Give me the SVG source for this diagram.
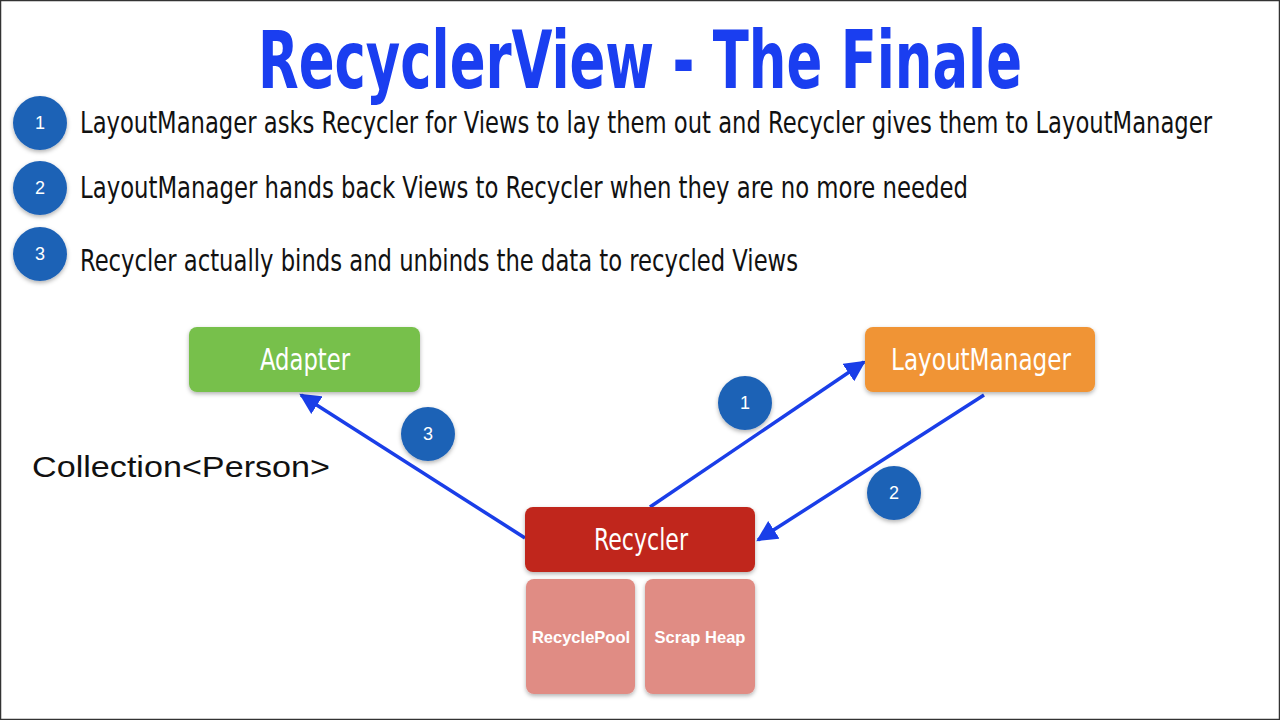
<svg xmlns="http://www.w3.org/2000/svg" width="1280" height="720" viewBox="0 0 1280 720">
<defs>
<filter id="sh" x="-20%" y="-20%" width="140%" height="150%"><feDropShadow dx="0" dy="2" stdDeviation="2" flood-color="#000" flood-opacity="0.3"/></filter>
<marker id="ah" viewBox="0 0 10 10" refX="9" refY="5" markerWidth="6" markerHeight="6" orient="auto" markerUnits="strokeWidth"><path d="M0,0 L10,5 L0,10 z" fill="#1a3ee8"/></marker>
<style>
.badge{fill:#1e62b6;filter:url(#sh)}
.bn{font-family:"Liberation Sans",Arial,sans-serif;font-size:18px;fill:#fff;text-anchor:middle}
.bt{font-family:"Liberation Sans Narrow","DejaVu Sans Condensed","Liberation Sans",sans-serif;font-size:30px;fill:#111}
.nl{font-family:"Liberation Sans Narrow","DejaVu Sans Condensed","Liberation Sans",sans-serif;font-size:30px;fill:#fff;text-anchor:middle}
.sl{font-family:"Liberation Sans",Arial,sans-serif;font-size:16.5px;font-weight:bold;fill:#fff;text-anchor:middle}
.conn{stroke:#1a3ee8;stroke-width:3.5;fill:none;marker-end:url(#ah)}
</style>
</defs>
<rect x="0" y="0" width="1280" height="720" fill="#fff"/>
<rect x="0.5" y="0.5" width="1279" height="719" fill="none" stroke="#333" stroke-width="1.5"/>
<text x="640" y="88" text-anchor="middle" font-family="'DejaVu Sans Condensed','Liberation Sans',sans-serif" font-weight="bold" font-size="80" fill="#1a3ef0" textLength="764" lengthAdjust="spacingAndGlyphs">RecyclerView - The Finale</text>
<g id="bullet1"><circle class="badge" cx="40" cy="123" r="27"/><text class="bn" x="40" y="129">1</text><text class="bt" x="80" y="133" textLength="1132" lengthAdjust="spacingAndGlyphs">LayoutManager asks Recycler for Views to lay them out and Recycler gives them to LayoutManager</text></g>
<g id="bullet2"><circle class="badge" cx="40" cy="188" r="27"/><text class="bn" x="40" y="194">2</text><text class="bt" x="80" y="198" textLength="888" lengthAdjust="spacingAndGlyphs">LayoutManager hands back Views to Recycler when they are no more needed</text></g>
<g id="bullet3"><circle class="badge" cx="40" cy="254" r="27"/><text class="bn" x="40" y="260">3</text><text class="bt" x="80" y="271" textLength="718" lengthAdjust="spacingAndGlyphs">Recycler actually binds and unbinds the data to recycled Views</text></g>
<g id="connectors">
<line class="conn" x1="525" y1="538" x2="301" y2="395"/>
<line class="conn" x1="650" y1="507" x2="864" y2="362"/>
<line class="conn" x1="984" y1="395" x2="758" y2="540"/>
<circle class="badge" cx="745" cy="403" r="27"/><text class="bn" x="745" y="409">1</text>
<circle class="badge" cx="894" cy="493" r="27"/><text class="bn" x="894" y="499">2</text>
<circle class="badge" cx="428" cy="434" r="27"/><text class="bn" x="428" y="440">3</text>
</g>
<g id="adapter"><rect x="189" y="327" width="231" height="65" rx="8" fill="#77c04b" filter="url(#sh)"/><text class="nl" x="305" y="370" textLength="90" lengthAdjust="spacingAndGlyphs">Adapter</text></g>
<g id="layoutmanager"><rect x="865" y="327" width="230" height="65" rx="8" fill="#f09434" filter="url(#sh)"/><text class="nl" x="981" y="370" textLength="180" lengthAdjust="spacingAndGlyphs">LayoutManager</text></g>
<g id="recycler"><rect x="525" y="507" width="230" height="65" rx="8" fill="#c0271b" filter="url(#sh)"/><text class="nl" x="641" y="550" textLength="94" lengthAdjust="spacingAndGlyphs">Recycler</text></g>
<g id="recyclepool"><rect x="526" y="579" width="109" height="115" rx="8" fill="#e08c84" filter="url(#sh)"/><text class="sl" x="581" y="643">RecyclePool</text></g>
<g id="scrapheap"><rect x="645" y="579" width="110" height="115" rx="8" fill="#e08c84" filter="url(#sh)"/><text class="sl" x="700" y="643">Scrap Heap</text></g>
<text x="32" y="477" font-family="'Liberation Sans',Arial,sans-serif" font-size="30" fill="#111" textLength="298" lengthAdjust="spacingAndGlyphs">Collection&lt;Person&gt;</text>
</svg>
